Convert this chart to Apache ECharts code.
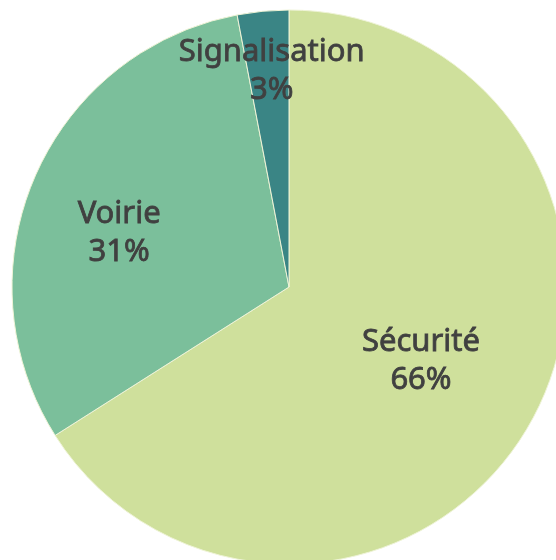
<!DOCTYPE html>
<html>
<head>
<meta charset="utf-8">
<script src="https://cdn.jsdelivr.net/npm/echarts@6/dist/echarts.min.js"></script>
<style>
html, body { margin: 0; padding: 0; background: #fff; }
#chart { width: 556px; height: 560px; }
</style>
</head>
<body>
<div id="chart"></div>
<script>
var categories = ['Sécurité', 'Voirie', 'Signalisation'];
var values = [66, 31, 3];
var colors = ['#CFE09C', '#7BBF9B', '#3A8585'];
// decalage des etiquettes (placement "au mieux" comme dans Excel)
var labelShift = [[8, 6], [-40, 2], [-4, -75]];

var chart = echarts.init(document.getElementById('chart'));
var option = {
	animation: false,
	series: [{
		type: 'pie',
		center: [289, 287],
		radius: 277,
		startAngle: 90,
		clockwise: true,
		data: categories.map(function (c, i) {
			return { name: c, value: values[i], itemStyle: { color: colors[i] } };
		}),
		itemStyle: {
			borderColor: '#eef3d6',
			borderWidth: 1
		},
		label: {
			show: true,
			position: 'inside',
			formatter: '{b}\n{d}%',
			color: '#404040',
			fontFamily: 'Noto Sans',
			fontWeight: 'normal',
			fontSize: 31,
			lineHeight: 38,
			textBorderColor: '#404040',
			textBorderWidth: 0.8
		},
		labelLine: { show: false },
		labelLayout: function (params) {
			var s = labelShift[params.dataIndex];
			return { dx: s[0], dy: s[1] };
		},
		emphasis: { disabled: true }
	}]
};
chart.setOption(option);
</script>
</body>
</html>
